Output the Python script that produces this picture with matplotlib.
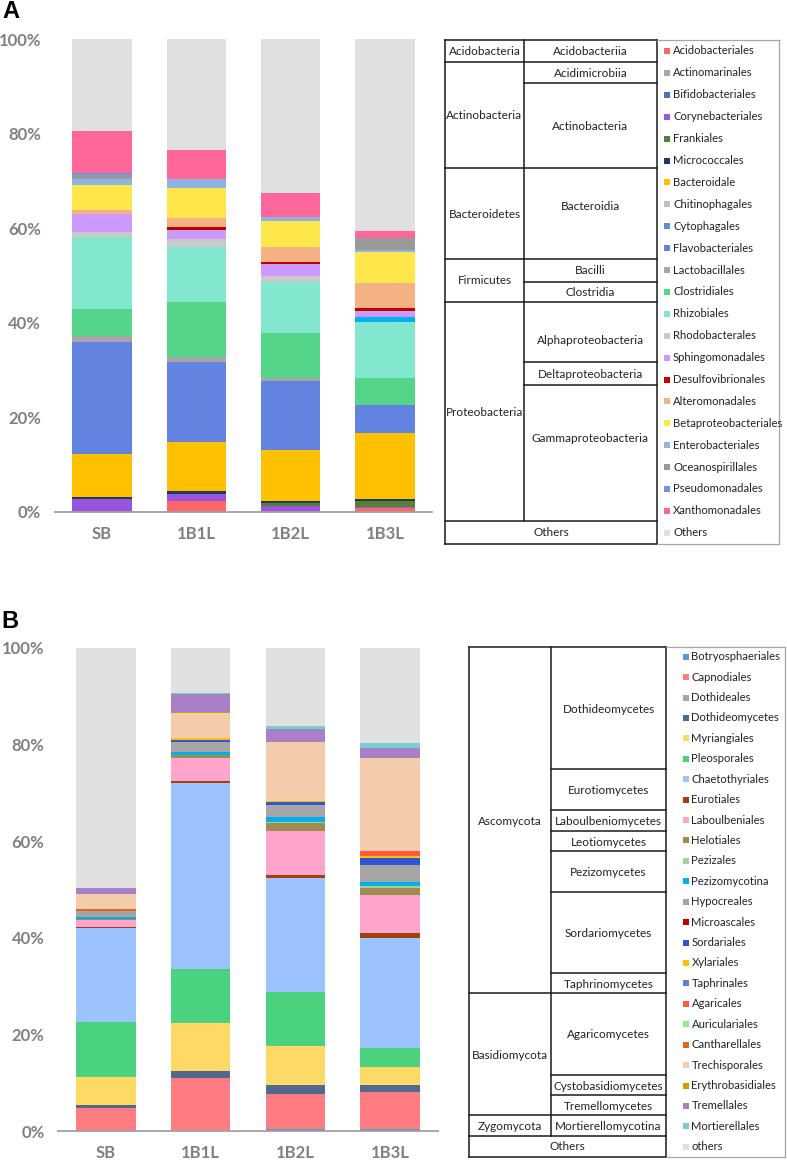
"""
Relative abundance of bacterial (A) and fungal (B) orders in SB / 1B1L / 1B2L / 1B3L,
stacked bars with the taxonomy table + colour key drawn next to each panel.
"""

import matplotlib
matplotlib.use("Agg")
import matplotlib.pyplot as plt
import numpy as np

W, H = 787, 1161
FONT = ["Lato", "DejaVu Sans"]
TICK_GREY = "#808080"

samples = ["SB", "1B1L", "1B2L", "1B3L"]

# ------------------------------------------------------------------
# Panel A: bacteria, % per order (bottom -> top)
# ------------------------------------------------------------------
a_orders = ["Acidobacteriales", "Actinomarinales", "Bifidobacteriales", "Corynebacteriales",
            "Frankiales", "Micrococcales", "Bacteroidale", "Chitinophagales", "Cytophagales",
            "Flavobacteriales", "Lactobacillales", "Clostridiales", "Rhizobiales",
            "Rhodobacterales", "Sphingomonadales", "Desulfovibrionales", "Alteromonadales",
            "Betaproteobacteriales", "Enterobacteriales", "Oceanospirillales",
            "Pseudomonadales", "Xanthomonadales", "Others"]
a_colors = ["#FF6666", "#A6A6A6", "#4472C4", "#9955DD", "#548235", "#203864", "#FFC000",
            "#BFBFBF", "#5B8FD6", "#6283DF", "#A6A6A6", "#55D58A", "#83E6CF", "#C9C9C9",
            "#CC99FF", "#C00000", "#F4B183", "#FFE64B", "#8DB4E2", "#999999", "#6F94D8",
            "#FF6699", "#E1E0E1"]
a_sb = [0, 0, 0, 2.8, 0, 0.4, 9.1, 0, 0, 23.6, 1.4, 5.6, 15.2, 1.0, 3.8, 0, 0.9, 5.3,
        1.3, 0.8, 0.5, 8.9, 19.4]
a_1b1l = [2.3, 0, 0, 1.4, 0, 0.7, 10.5, 0, 0, 16.9, 1.0, 11.7, 11.5, 1.7, 1.9, 0.7, 1.8,
          6.3, 1.9, 0, 0, 6.2, 23.5]
a_1b2l = [0.3, 0, 0, 0.9, 0.8, 0.4, 10.8, 0, 0, 14.5, 0.7, 9.4, 10.9, 1.3, 2.4, 0.4, 3.2,
          5.5, 0.8, 0, 0, 5.2, 32.5]
a_1b3l = [0.9, 0, 0, 0.2, 1.3, 0.4, 14.0, 0, 0, 5.8, 0, 5.7, 11.8, 1.2, 1.3, 0.5, 5.3,
          6.6, 0.4, 2.5, 0, 1.5, 40.6]
# the 1B3L band in the Rhodobacterales slot is drawn bright blue in the original
a_overrides = {(13, 3): "#00B0F0"}

a_phyla = [("Acidobacteria", 51.3), ("Actinobacteria", 115.3), ("Bacteroidetes", 214.3),
           ("Firmicutes", 281), ("Proteobacteria", 412.3)]
a_classes = [("Acidobacteriia", 51.3), ("Acidimicrobiia", 73.3), ("Actinobacteria", 127),
             ("Bacteroidia", 206.7), ("Bacilli", 271), ("Clostridia", 292.7),
             ("Alphaproteobacteria", 340.7), ("Deltaproteobacteria", 375),
             ("Gammaproteobacteria", 438.3)]

# ------------------------------------------------------------------
# Panel B: fungi, % per order (bottom -> top)
# ------------------------------------------------------------------
b_orders = ["Botryosphaeriales", "Capnodiales", "Dothideales", "Dothideomycetes",
            "Myriangiales", "Pleosporales", "Chaetothyriales", "Eurotiales", "Laboulbeniales",
            "Helotiales", "Pezizales", "Pezizomycotina", "Hypocreales", "Microascales",
            "Sordariales", "Xylariales", "Taphrinales", "Agaricales", "Auriculariales",
            "Cantharellales", "Trechisporales", "Erythrobasidiales", "Tremellales",
            "Mortierellales", "others"]
b_colors = ["#5B9BD5", "#FF7C80", "#A6A6A6", "#51698F", "#FFD966", "#4AD27E", "#9DC3FF",
            "#A0410D", "#FFA5CB", "#A08C50", "#A9D18E", "#00B0F0", "#A5A5A5", "#C00000",
            "#2F55D4", "#FFC000", "#5B82D6", "#FF5B3A", "#88F088", "#E0641A", "#F4CCAC",
            "#D09C00", "#A880C8", "#79CDCD", "#E1E0E1"]
b_sb = [0, 4.7, 0, 0.7, 5.8, 11.4, 19.4, 0.3, 1.3, 0.3, 0, 0.4, 1.2, 0, 0, 0, 0, 0, 0,
        0.4, 3.2, 0, 1.3, 0, 49.6]
b_1b1l = [0, 11.0, 0, 1.4, 9.9, 11.2, 38.6, 0.4, 4.8, 0.5, 0, 0.7, 2.1, 0, 0.4, 0.3, 0, 0,
          0, 0, 5.3, 0.2, 3.6, 0.3, 9.3]
b_1b2l = [0.4, 7.3, 0, 1.8, 8.1, 11.2, 23.6, 0.6, 9.2, 1.5, 0.3, 1.1, 2.4, 0, 0.7, 0.2, 0,
          0, 0, 0, 12.2, 0, 2.6, 0.7, 16.1]
b_1b3l = [0.5, 7.6, 0, 1.4, 3.7, 4.0, 22.8, 0.9, 8.0, 1.4, 0.4, 0.9, 3.4, 0, 1.5, 0.4, 0,
          1.0, 0, 0, 19.3, 0, 2.0, 1.1, 19.7]

b_phyla = [("Ascomycota", 821.7), ("Basidiomycota", 1055.7), ("Zygomycota", 1126.7)]
b_classes = [("Dothideomycetes", 709.3), ("Eurotiomycetes", 791),
             ("Laboulbeniomycetes", 821.7), ("Leotiomycetes", 842), ("Pezizomycetes", 872.3),
             ("Sordariomycetes", 933.3), ("Taphrinomycetes", 984), ("Agaricomycetes", 1035),
             ("Cystobasidiomycetes", 1086), ("Tremellomycetes", 1106),
             ("Mortierellomycotina", 1126.7)]


def px_axes(fig, left, top, right, bottom):
    return fig.add_axes([left / W, 1 - bottom / H, (right - left) / W, (bottom - top) / H])


def draw_bars(ax, series, colors, overrides=None):
    overrides = overrides or {}
    x = np.arange(len(samples))
    base = np.zeros(len(samples))
    for i, col in enumerate(colors):
        vals = np.array([s[i] for s in series], dtype=float)
        c = [overrides.get((i, j), col) for j in range(len(samples))]
        ax.bar(x, vals, 0.63, bottom=base, color=c, linewidth=0)
        base += vals

    ax.set_xlim(-0.5, 3.5)
    ax.set_ylim(0, 100)
    ax.set_xticks(x)
    ax.set_xticklabels(samples)
    ax.set_yticks(np.arange(0, 101, 20))
    ax.set_yticklabels([f"{v}%" for v in range(0, 101, 20)])
    ax.tick_params(axis="y", length=0, pad=10)
    ax.tick_params(axis="x", length=0, pad=10)
    for lab in ax.get_xticklabels() + ax.get_yticklabels():
        lab.set_family(FONT)
        lab.set_fontweight("bold")
        lab.set_fontsize(12)
        lab.set_color(TICK_GREY)
    for side in ["top", "right", "left"]:
        ax.spines[side].set_visible(False)
    ax.spines["bottom"].set_color("#A0A0A0")
    ax.spines["bottom"].set_linewidth(1.3)


def hline(ov, y, x0, x1, **kw):
    ov.plot([x0, x1], [y, y], solid_capstyle="projecting", **kw)


def vline(ov, x, y0, y1, **kw):
    ov.plot([x, x], [y0, y1], solid_capstyle="projecting", **kw)


def draw_table(ov, x0, xc, x1, xr, y0, y1, full_rows, class_rows, others_top,
               phyla, classes, orders, colors, leg_first, leg_step, mark_x, text_x):
    black = dict(color="#1A1A1A", lw=1.1)
    # taxonomy grid
    hline(ov, y0, x0, x1, **black)
    hline(ov, y1, x0, x1, **black)
    vline(ov, x0, y0, y1, **black)
    vline(ov, x1, y0, y1, **black)
    vline(ov, xc, y0, others_top, **black)
    for y in full_rows:
        hline(ov, y, x0, x1, **black)
    for y in class_rows:
        hline(ov, y, xc, x1, **black)
    # key box
    grey = dict(color="#A6A6A6", lw=0.9)
    hline(ov, y0, x1, xr, **grey)
    hline(ov, y1, x1, xr, **grey)
    vline(ov, xr, y0, y1, **grey)

    txt = dict(ha="center", va="center", fontsize=8.5, family=FONT, color="#222222")
    for name, y in phyla:
        ov.text((x0 + xc) / 2, y, name, **txt)
    for name, y in classes:
        ov.text((xc + x1) / 2, y, name, **txt)
    ov.text((x0 + x1) / 2, (others_top + y1) / 2, "Others", **txt)

    for k, (name, col) in enumerate(zip(orders, colors)):
        y = leg_first + k * leg_step
        ov.scatter([mark_x], [y], marker="s", s=14, color=col, linewidths=0)
        ov.text(text_x, y, name, ha="left", va="center", fontsize=8.1, family=FONT,
                color="#222222")


fig = plt.figure(figsize=(W / 100, H / 100), dpi=100)

ax_a = px_axes(fig, 55, 39, 432, 512)
draw_bars(ax_a, [a_sb, a_1b1l, a_1b2l, a_1b3l], a_colors, a_overrides)

ax_b = px_axes(fig, 58.3, 648, 437.7, 1131)
draw_bars(ax_b, [b_sb, b_1b1l, b_1b2l, b_1b3l], b_colors)

# overlay in pixel coordinates for the tables and panel letters
ov = fig.add_axes([0, 0, 1, 1])
ov.set_xlim(0, W)
ov.set_ylim(H, 0)
ov.axis("off")

ov.text(11, 12, "A", ha="center", va="center", fontsize=17, fontweight="bold",
        family=["Liberation Sans", "DejaVu Sans"])
ov.text(10, 621, "B", ha="center", va="center", fontsize=17, fontweight="bold",
        family=["Liberation Sans", "DejaVu Sans"])

draw_table(ov, 445, 524, 657, 779, 40, 544,
           full_rows=[61.7, 167.7, 259, 301.7, 521],
           class_rows=[83.3, 281.7, 362.3, 385],
           others_top=521,
           phyla=a_phyla, classes=a_classes, orders=a_orders, colors=a_colors,
           leg_first=51, leg_step=21.9, mark_x=667.3, text_x=673)

draw_table(ov, 469, 551, 666, 785, 647.3, 1157.3,
           full_rows=[993.3, 1115, 1136],
           class_rows=[769.3, 810, 830.7, 851, 891.7, 972.7, 1075, 1095],
           others_top=1136,
           phyla=b_phyla, classes=b_classes, orders=b_orders, colors=b_colors,
           leg_first=656.7, leg_step=20.42, mark_x=685.7, text_x=691.5)

fig.savefig("out.png", dpi=100)
